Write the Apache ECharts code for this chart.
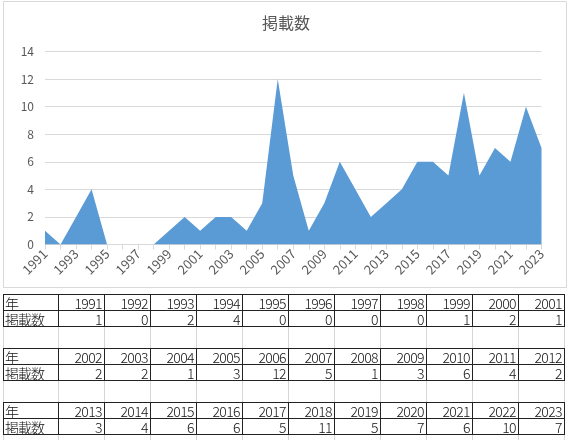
<!DOCTYPE html>
<html>
<head>
<meta charset="utf-8">
<script src="https://cdn.jsdelivr.net/npm/echarts@6/dist/echarts.min.js"></script>
<style>
  html, body { margin: 0; padding: 0; background: #fff; }
  #chart { position: absolute; left: 0; top: 0; width: 572px; height: 440px; }
  #table { position: absolute; left: 0; top: 0; width: 572px; height: 440px; pointer-events: none; }
  .cell { position: absolute; box-sizing: border-box; border: 1px solid #222; font-family: "Noto Sans CJK JP", sans-serif; font-size: 14px; font-weight: 300; color: #111; line-height: 14px; padding: 1px 2px 0 2px; letter-spacing: -0.6px; white-space: nowrap; overflow: hidden; }
  .num { text-align: right; }
  .hdr { text-align: left; padding-left: 1px; letter-spacing: -1px; }
  .grid { position: absolute; width: 1px; background: #d6d6d6; }
</style>
</head>
<body>
<div id="chart"></div>
<div id="table"></div>
<script>
const titleText = "掲載数";
const years = ["1991","1992","1993","1994","1995","1996","1997","1998","1999","2000","2001",
               "2002","2003","2004","2005","2006","2007","2008","2009","2010","2011","2012",
               "2013","2014","2015","2016","2017","2018","2019","2020","2021","2022","2023"];
const counts = [1,0,2,4,0,0,0,0,1,2,1,
                2,2,1,3,12,5,1,3,6,4,2,
                3,4,6,6,5,11,5,7,6,10,7];
const rowHeaders = ["年", "掲載数"];
const yMin = 0, yMax = 14, yStep = 2;

const chart = echarts.init(document.getElementById('chart'), null, {renderer: 'canvas'});
chart.setOption({
  animation: false,
  backgroundColor: '#fff',
  title: {
    text: titleText, left: 'center', top: 10,
    textStyle: { fontFamily: 'Noto Sans CJK JP', fontSize: 16, fontWeight: 'normal', color: '#595959' }
  },
  graphic: [{
    type: 'rect', shape: { x: 3.5, y: 1.5, width: 563, height: 286 },
    style: { fill: 'none', stroke: '#d9d9d9', lineWidth: 1 }, silent: true
  }],
  grid: { left: 45, right: 30.5, top: 51.5, bottom: 195.5, containLabel: false },
  xAxis: {
    type: 'category', data: years, boundaryGap: false,
    axisLine: { lineStyle: { color: '#d9d9d9', width: 1 } },
    axisTick: { show: true, interval: 0, length: 5, lineStyle: { color: '#d9d9d9' } },
    axisLabel: { interval: 1, rotate: 45, margin: 7, color: '#595959', fontSize: 13, fontFamily: 'Noto Sans CJK JP' },
    splitLine: { show: false }
  },
  yAxis: {
    type: 'value', min: yMin, max: yMax, interval: yStep,
    axisLine: { show: false }, axisTick: { show: false },
    axisLabel: { margin: 11, color: '#595959', fontSize: 12, fontFamily: 'Noto Sans CJK JP' },
    splitLine: { lineStyle: { color: '#d9d9d9', width: 1 } }
  },
  series: [{
    type: 'line', data: counts, symbol: 'none',
    lineStyle: { width: 0, color: '#5b9bd5' },
    areaStyle: { color: '#5b9bd5', opacity: 1 }
  }]
});

// table drawn as HTML text from the same arrays
const tbl = document.getElementById('table');
const blockTops = [294, 348, 402];
const colX0 = 3, firstW = 56, colW = 47, rowH = 17, perBlock = 11;
const gapRanges = [[327, 348], [381, 402], [435, 440]];
for (const [g0, g1] of gapRanges) {
  const xs = [colX0, colX0 + firstW - 1];
  for (let c = 1; c <= perBlock; c++) xs.push(colX0 + firstW - 1 + c * (colW - 1));
  for (const x of xs) {
    const d = document.createElement('div');
    d.className = 'grid';
    d.style.left = x + 'px'; d.style.top = g0 + 'px'; d.style.height = (g1 - g0) + 'px';
    tbl.appendChild(d);
  }
}
blockTops.forEach((top, b) => {
  for (let r = 0; r < 2; r++) {
    const y = top + r * (rowH - 1);
    const h = document.createElement('div');
    h.className = 'cell hdr';
    h.style.left = colX0 + 'px'; h.style.top = y + 'px';
    h.style.width = firstW + 'px'; h.style.height = rowH + 'px';
    h.textContent = rowHeaders[r];
    tbl.appendChild(h);
    for (let c = 0; c < perBlock; c++) {
      const i = b * perBlock + c;
      const d = document.createElement('div');
      d.className = 'cell num';
      d.style.left = (colX0 + firstW - 1 + c * (colW - 1)) + 'px';
      d.style.top = y + 'px';
      d.style.width = colW + 'px'; d.style.height = rowH + 'px';
      d.textContent = r === 0 ? years[i] : String(counts[i]);
      tbl.appendChild(d);
    }
  }
});
</script>
</body>
</html>
